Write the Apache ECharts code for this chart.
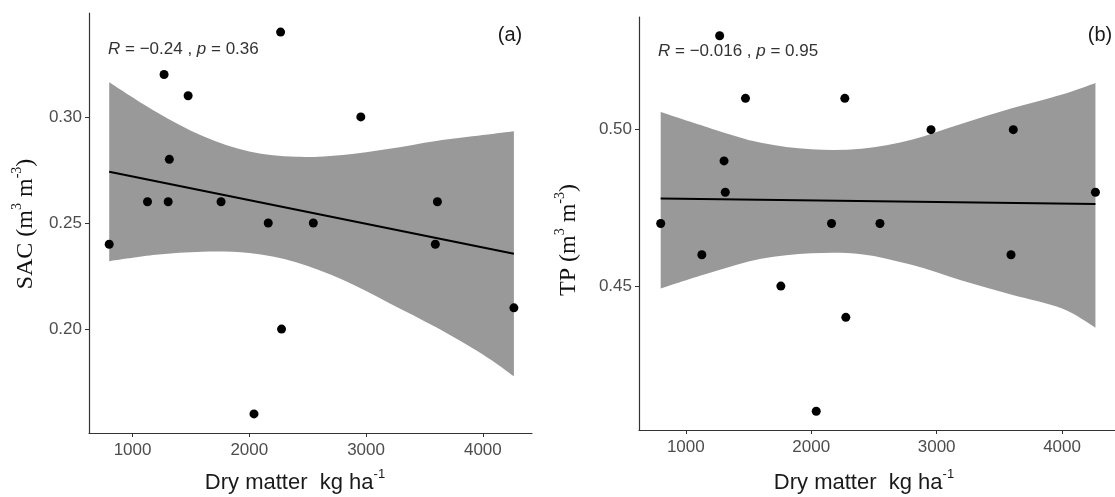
<!DOCTYPE html>
<html>
<head>
<meta charset="utf-8">
<title>SAC / TP vs dry matter</title>
<script src="https://cdn.jsdelivr.net/npm/echarts@6/dist/echarts.min.js"></script>
<style>
    html, body { margin: 0; padding: 0; background: #fff; }
    #chart { width: 1115px; height: 497px; }
</style>
</head>
<body>
<div id="chart"></div>
<script>
// 干物质 (kg/ha) - 两个面板共用
const dryMatter = [800, 1128, 1270, 1305, 1315, 1476, 1758, 2040, 2162, 2268, 2276, 2548, 2955, 3593, 3611, 4266];
// (a) SAC
const sacValues = [0.24, 0.26, 0.32, 0.26, 0.28, 0.31, 0.26, 0.16, 0.25, 0.34, 0.20, 0.25, 0.30, 0.24, 0.26, 0.21];
// (b) TP
const tpValues = [0.47, 0.46, 0.53, 0.49, 0.48, 0.51, 0.45, 0.41, 0.47, 0.51, 0.44, 0.47, 0.50, 0.46, 0.50, 0.48];

// 拟合线两端
const fitX = [800, 4266];
const sacFit = [0.2742, 0.2355];
const tpFit = [0.4780, 0.4762];

// 置信带
const bandX = [800, 1200, 1600, 2000, 2400, 2800, 3200, 3600, 4000, 4266];
const sacBandUp = [0.3164, 0.3025, 0.2910, 0.2837, 0.2812, 0.2821, 0.2850, 0.2887, 0.2915, 0.2933];
const sacBandLow = [0.2320, 0.2350, 0.2365, 0.2358, 0.2315, 0.2232, 0.2122, 0.2008, 0.1880, 0.1777];
const tpBandUp = [0.5056, 0.5004, 0.4958, 0.4937, 0.4939, 0.4968, 0.5019, 0.5068, 0.5112, 0.5149];
const tpBandLow = [0.4492, 0.4543, 0.4587, 0.4605, 0.4602, 0.4568, 0.4518, 0.4472, 0.4428, 0.4367];

// 刻度
const xTicks = [1000, 2000, 3000, 4000];
const sacTicks = [0.20, 0.25, 0.30];
const tpTicks = [0.45, 0.50];

const TICK_FONT = '"Liberation Sans", Arial, sans-serif';
const AXIS_COLOR = '#333';
const BAND_COLOR = '#999999';

function pairs(xs, ys) {
    return xs.map((x, i) => [x, ys[i]]);
}

// 平滑曲线段 (Catmull-Rom -> 贝塞尔), 像素坐标
function curveTo(pts) {
    let d = '';
    for (let i = 0; i < pts.length - 1; i++) {
        const p0 = pts[Math.max(i - 1, 0)], p1 = pts[i], p2 = pts[i + 1], p3 = pts[Math.min(i + 2, pts.length - 1)];
        const c1 = [p1[0] + (p2[0] - p0[0]) / 6, p1[1] + (p2[1] - p0[1]) / 6];
        const c2 = [p2[0] - (p3[0] - p1[0]) / 6, p2[1] - (p3[1] - p1[1]) / 6];
        d += ` C${c1[0]},${c1[1]} ${c2[0]},${c2[1]} ${p2[0]},${p2[1]}`;
    }
    return d;
}

function makeXAxis(gridIndex, max) {
    return {
        type: 'value', gridIndex, min: 627, max, z: 10,
        splitLine: { show: false },
        axisLine: { lineStyle: { color: AXIS_COLOR, width: 1.2 } },
        axisTick: { length: 4, customValues: xTicks, lineStyle: { color: AXIS_COLOR } },
        axisLabel: {
            customValues: xTicks, margin: 9,
            color: '#4d4d4d', fontFamily: TICK_FONT, fontSize: 17,
            formatter: v => String(v)
        }
    };
}

function makeYAxis(gridIndex, min, max, ticks) {
    return {
        type: 'value', gridIndex, min, max, z: 10,
        splitLine: { show: false },
        axisLine: { show: true, lineStyle: { color: AXIS_COLOR, width: 1.2 } },
        axisTick: { show: true, length: 4, customValues: ticks, lineStyle: { color: AXIS_COLOR } },
        axisLabel: {
            customValues: ticks, margin: 7,
            color: '#4d4d4d', fontFamily: TICK_FONT, fontSize: 17,
            formatter: v => v.toFixed(2)
        }
    };
}

// 一个面板的系列: 置信带 + 拟合线 + 散点
function panelSeries(idx, ys, fit, up, low) {
    return [
        {
            type: 'custom', xAxisIndex: idx, yAxisIndex: idx, silent: true, z: 1,
            data: bandX.map((x, i) => [x, up[i], low[i]]),
            encode: { x: 0, y: [1, 2] },
            renderItem(params, api) {
                if (params.dataIndex !== 0) return null;
                const upPts = bandX.map((x, i) => api.coord([x, up[i]]));
                const lowPts = bandX.map((x, i) => api.coord([x, low[i]])).reverse();
                const d = `M${upPts[0][0]},${upPts[0][1]}` + curveTo(upPts)
                    + ` L${lowPts[0][0]},${lowPts[0][1]}` + curveTo(lowPts) + ' Z';
                return { type: 'path', shape: { pathData: d }, style: { fill: BAND_COLOR } };
            }
        },
        {
            type: 'line', xAxisIndex: idx, yAxisIndex: idx,
            data: pairs(fitX, fit), showSymbol: false, silent: true,
            lineStyle: { color: '#000', width: 2 }, z: 3
        },
        {
            type: 'scatter', xAxisIndex: idx, yAxisIndex: idx,
            data: pairs(dryMatter, ys), symbolSize: 9,
            itemStyle: { color: '#000', opacity: 1 }, z: 4
        }
    ];
}

// 文本: 标注、轴标题
const statRich = {
    i: { fontFamily: TICK_FONT, fontSize: 17, fontStyle: 'italic', fill: '#333' },
    n: { fontFamily: TICK_FONT, fontSize: 17, fill: '#333' }
};
const xTitleRich = {
    a: { fontFamily: TICK_FONT, fontSize: 22, fill: '#1a1a1a', lineHeight: 26, verticalAlign: 'bottom' },
    s: { fontFamily: TICK_FONT, fontSize: 13, fill: '#1a1a1a', lineHeight: 26, verticalAlign: 'top' }
};
const yTitleRich = {
    a: { fontFamily: '"Liberation Serif", "Times New Roman", serif', fontSize: 24, fill: '#111', lineHeight: 28, verticalAlign: 'bottom' },
    s: { fontFamily: '"Liberation Serif", "Times New Roman", serif', fontSize: 14, fill: '#111', lineHeight: 28, verticalAlign: 'top' }
};

function textEl(x, y, text, rich, align, rotation) {
    return {
        type: 'text', x, y, z: 100, silent: true, rotation: rotation || 0,
        style: { text, rich, align: align || 'left', verticalAlign: 'middle' }
    };
}

const chart = echarts.init(document.getElementById('chart'), null, { renderer: 'canvas' });

const option = {
    animation: false,
    backgroundColor: '#fff',
    grid: [
        { left: 89, top: 13, width: 443, height: 420 },
        { left: 639, top: 17, width: 476, height: 413 }
    ],
    xAxis: [makeXAxis(0, 4421), makeXAxis(1, 4422)],
    yAxis: [makeYAxis(0, 0.151, 0.349, sacTicks), makeYAxis(1, 0.404, 0.536, tpTicks)],
    series: [
        ...panelSeries(0, sacValues, sacFit, sacBandUp, sacBandLow),
        ...panelSeries(1, tpValues, tpFit, tpBandUp, tpBandLow)
    ],
    graphic: [
        textEl(108, 49, '{i|R}{n| = −0.24 , }{i|p}{n| = 0.36}', statRich),
        textEl(658, 51, '{i|R}{n| = −0.016 , }{i|p}{n| = 0.95}', statRich),
        { type: 'text', x: 510, y: 35, z: 100, silent: true,
          style: { text: '(a)', font: '20px "Liberation Sans", Arial', fill: '#1a1a1a', align: 'center', verticalAlign: 'middle' } },
        { type: 'text', x: 1100, y: 35, z: 100, silent: true,
          style: { text: '(b)', font: '20px "Liberation Sans", Arial', fill: '#1a1a1a', align: 'center', verticalAlign: 'middle' } },
        textEl(295, 481, '{a|Dry matter  kg ha}{s|-1}', xTitleRich, 'center'),
        textEl(864, 481, '{a|Dry matter  kg ha}{s|-1}', xTitleRich, 'center'),
        textEl(24, 224, '{a|SAC (m}{s|3}{a| m}{s|-3}{a|)}', yTitleRich, 'center', Math.PI / 2),
        textEl(567, 240, '{a|TP (m}{s|3}{a| m}{s|-3}{a|)}', yTitleRich, 'center', Math.PI / 2)
    ]
};

chart.setOption(option);
</script>
</body>
</html>
